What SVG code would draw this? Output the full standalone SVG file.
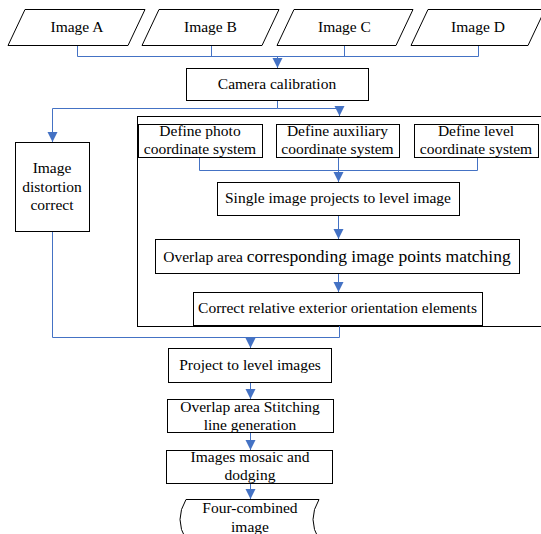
<svg xmlns="http://www.w3.org/2000/svg" width="541" height="534" viewBox="0 0 541 534">
<style>
.box{fill:#fff;stroke:#000;stroke-width:1}
.frame{fill:none;stroke:#000;stroke-width:1}
.t{font-family:"Liberation Serif","Times New Roman",serif;font-size:15.5px;fill:#000;text-anchor:middle}
.c{fill:none;stroke:#4472C4;stroke-width:1}
</style>
<defs>
<marker id="ah" markerUnits="userSpaceOnUse" markerWidth="10" markerHeight="11" refX="10" refY="5" orient="auto" viewBox="0 0 10 10">
<path d="M0,0 L10,5 L0,10 z" fill="#4472C4"/>
</marker>
</defs>
<rect class="frame" x="137.5" y="116.5" width="410" height="210"/>
<g id="connectors">
<path class="c" d="M77.5,45 V56.5 H478.5 V45"/>
<path class="c" d="M211.5,45 V56.5"/>
<path class="c" d="M344.5,45 V56.5"/>
<path class="c" d="M277.5,56.5 V68" marker-end="url(#ah)"/>
<path class="c" d="M277.5,100 V108.5 H339.5 V116" marker-end="url(#ah)"/>
<path class="c" d="M277.5,108.5 H52.5 V142" marker-end="url(#ah)"/>
<path class="c" d="M199.5,157 V170.5 H477.5 V157"/>
<path class="c" d="M338.5,157 V182" marker-end="url(#ah)"/>
<path class="c" d="M338.5,215 V239" marker-end="url(#ah)"/>
<path class="c" d="M338.5,273 V292" marker-end="url(#ah)"/>
<path class="c" d="M339.5,325 V337.5 H52.5 V231"/>
<path class="c" d="M250.5,337.5 V348" marker-end="url(#ah)"/>
<path class="c" d="M250.5,382 V399" marker-end="url(#ah)"/>
<path class="c" d="M250.5,432 V450" marker-end="url(#ah)"/>
<path class="c" d="M250.5,483 V499" marker-end="url(#ah)"/>
</g>
<g id="imageA"><polygon class="box" points="25,9.5 145,9.5 128,45.5 8,45.5"/><text class="t" x="77" y="32">Image A</text></g>
<g id="imageB"><polygon class="box" points="159,9.5 279,9.5 262,45.5 142,45.5"/><text class="t" x="210.5" y="32">Image B</text></g>
<g id="imageC"><polygon class="box" points="294,9.5 413,9.5 396,45.5 277,45.5"/><text class="t" x="344.5" y="32">Image C</text></g>
<g id="imageD"><polygon class="box" points="428,9.5 545,9.5 528,45.5 411,45.5"/><text class="t" x="478" y="32">Image D</text></g>
<g id="camera"><rect class="box" x="186.5" y="68.5" width="182" height="32"/><text class="t" x="277" y="89">Camera calibration</text></g>
<g id="distortion"><rect class="box" x="15.5" y="142.5" width="74" height="89"/><text class="t" x="52" y="173">Image</text><text class="t" x="52" y="191.5">distortion</text><text class="t" x="52" y="210">correct</text></g>
<g id="photo"><rect class="box" x="138.5" y="124.5" width="124" height="33"/><text class="t" x="200" y="136">Define photo</text><text class="t" x="200" y="154">coordinate system</text></g>
<g id="auxiliary"><rect class="box" x="276.5" y="124.5" width="123" height="33"/><text class="t" x="337.5" y="136">Define auxiliary</text><text class="t" x="337.5" y="154">coordinate system</text></g>
<g id="level"><rect class="box" x="414.5" y="124.5" width="124" height="33"/><text class="t" x="476" y="136">Define level</text><text class="t" x="476" y="154">coordinate system</text></g>
<g id="single"><rect class="box" x="217.5" y="182.5" width="242" height="33"/><text class="t" x="338" y="203">Single image projects to level image</text></g>
<g id="overlap"><rect class="box" x="155.5" y="239.5" width="364" height="34"/><text class="t" x="337" y="262">Overlap area <tspan style="font-size:17.5px">corresponding image points matching</tspan></text></g>
<g id="correct"><rect class="box" x="193.5" y="292.5" width="289" height="33"/><text class="t" x="337.5" y="313">Correct relative exterior orientation elements</text></g>
<g id="project"><rect class="box" x="168.5" y="348.5" width="163" height="34"/><text class="t" x="250" y="370">Project to level images</text></g>
<g id="stitching"><rect class="box" x="167.5" y="399.5" width="166" height="33"/><text class="t" x="250" y="412">Overlap area Stitching</text><text class="t" x="250" y="430">line generation</text></g>
<g id="mosaic"><rect class="box" x="166.5" y="450.5" width="166" height="33"/><text class="t" x="250" y="462">Images mosaic and</text><text class="t" x="250" y="480">dodging</text></g>
<g id="combined"><path class="box" d="M186,499.5 H319 Q307,519.5 319,539.5 H186 Q174,519.5 186,499.5 z"/><text class="t" x="250" y="513">Four-combined</text><text class="t" x="250" y="532">image</text></g>
</svg>
